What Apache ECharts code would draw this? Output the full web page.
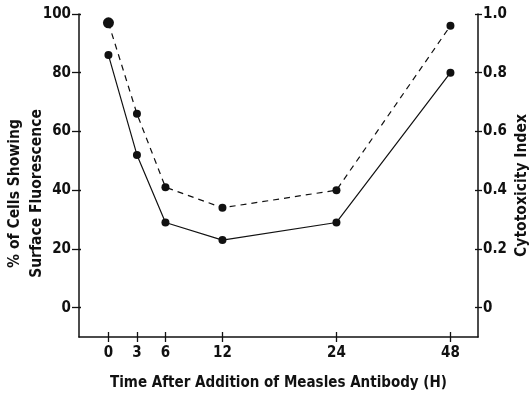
<!DOCTYPE html>
<html>
<head>
<meta charset="utf-8">
<script src="https://cdn.jsdelivr.net/npm/echarts@6/dist/echarts.min.js"></script>
<style>
  html, body { margin: 0; padding: 0; background: #fff; }
  #chart { width: 529px; height: 396px; }
</style>
</head>
<body>
<div id="chart"></div>
<script>
// Sampling times (hours) and the two measured curves
const hours = [0, 3, 6, 12, 24, 48];
const surfaceFluorescence = [86, 52, 29, 23, 29, 80];          // % of cells, left axis
const cytotoxicityIndex = [0.97, 0.66, 0.41, 0.34, 0.40, 0.96]; // right axis
const leftTicks = [0, 20, 40, 60, 80, 100];
const rightTicks = [0, 0.2, 0.4, 0.6, 0.8, 1.0];

// The time axis is linear up to 24 h, then runs at half scale to 48 h
function timeToAxis(h) { return h <= 24 ? h : 24 + (h - 24) / 2; }
function axisToTime(v) { return v <= 24 ? v : 24 + (v - 24) * 2; }

const FONT = '"Liberation Sans Narrow", "DejaVu Sans Condensed", sans-serif';
const INK = '#111';

const xPositions = hours.map(timeToAxis);
const fluorPoints = hours.map((h, i) => [timeToAxis(h), surfaceFluorescence[i]]);
const cytoPoints = hours.map((h, i) => [timeToAxis(h), cytotoxicityIndex[i]]);

const labelStyle = { fontFamily: FONT, fontWeight: 'bold', fontSize: 15, color: INK };
const titleStyle = { fontFamily: FONT, fontWeight: 'bold', fontSize: 15.5, color: INK };

const xBase = { type: 'value', min: -3.1, max: 38.9, splitLine: { show: false } };
const yLeftBase = { type: 'value', min: -10, max: 100, position: 'left', splitLine: { show: false } };
const yRightBase = { type: 'value', min: -0.1, max: 1.0, position: 'right', splitLine: { show: false } };

const chart = echarts.init(document.getElementById('chart'), null, { renderer: 'canvas' });
chart.setOption({
  backgroundColor: '#fff',
  animation: false,
  grid: { left: 79, right: 51, top: 14, bottom: 59, containLabel: false, outerBoundsMode: 'none' },
  xAxis: [
    Object.assign({}, xBase, {
      position: 'bottom',
      name: 'Time After Addition of Measles Antibody (H)',
      nameLocation: 'middle',
      nameGap: 39,
      nameMoveOverlap: false,
      nameTextStyle: Object.assign({}, titleStyle, { fontSize: 15 }),
      axisLine: { show: true, onZero: false, lineStyle: { color: INK, width: 1.5 } },
      axisTick: { show: true, length: 5, customValues: xPositions, lineStyle: { color: INK, width: 1.3 } },
      axisLabel: Object.assign({ show: true, margin: 9, customValues: xPositions,
        formatter: v => String(Math.round(axisToTime(v))) }, labelStyle)
    }),
    Object.assign({}, xBase, {
      position: 'bottom',
      axisLine: { show: false, onZero: false },
      axisTick: { show: true, inside: true, length: 5, customValues: xPositions, lineStyle: { color: INK, width: 1.3 } },
      axisLabel: { show: false }
    })
  ],
  yAxis: [
    Object.assign({}, yLeftBase, {
      name: '% of Cells Showing\nSurface Fluorescence',
      nameLocation: 'middle',
      nameRotate: 90,
      nameGap: 31,
      nameMoveOverlap: false,
      nameTextStyle: Object.assign({ lineHeight: 22, padding: [0, 36, 0, 0] }, titleStyle),
      axisLine: { show: true, onZero: false, lineStyle: { color: INK, width: 1.5 } },
      axisTick: { show: true, length: 7, customValues: leftTicks, lineStyle: { color: INK, width: 1.3 } },
      axisLabel: Object.assign({ show: true, margin: 8, customValues: leftTicks }, labelStyle)
    }),
    Object.assign({}, yRightBase, {
      name: 'Cytotoxicity Index',
      nameLocation: 'middle',
      nameRotate: 90,
      nameGap: 36,
      nameMoveOverlap: false,
      nameTextStyle: Object.assign({ padding: [0, 20, 0, 0] }, titleStyle),
      axisLine: { show: true, onZero: false, lineStyle: { color: INK, width: 1.5 } },
      axisTick: { show: true, length: 4, customValues: rightTicks, lineStyle: { color: INK, width: 1.3 } },
      axisLabel: Object.assign({ show: true, margin: 5, customValues: rightTicks,
        formatter: v => (v === 0 ? '0' : v.toFixed(1)) }, labelStyle)
    }),
    Object.assign({}, yLeftBase, {
      axisLine: { show: false, onZero: false },
      axisTick: { show: true, inside: true, length: 2, customValues: leftTicks, lineStyle: { color: INK, width: 1.3 } },
      axisLabel: { show: false }
    }),
    Object.assign({}, yRightBase, {
      axisLine: { show: false, onZero: false },
      axisTick: { show: true, inside: true, length: 3, customValues: rightTicks, lineStyle: { color: INK, width: 1.3 } },
      axisLabel: { show: false }
    })
  ],
  series: [
    {
      name: '% of Cells Showing Surface Fluorescence',
      type: 'line',
      xAxisIndex: 0,
      yAxisIndex: 0,
      data: fluorPoints,
      symbol: 'circle',
      symbolSize: 8,
      lineStyle: { color: INK, width: 1.2, type: 'solid' },
      itemStyle: { color: INK }
    },
    {
      name: 'Cytotoxicity Index',
      type: 'line',
      xAxisIndex: 0,
      yAxisIndex: 1,
      data: cytoPoints,
      symbol: 'circle',
      symbolSize: (val, params) => (params.dataIndex === 0 ? 11 : 8),
      lineStyle: { color: INK, width: 1.2, type: [6, 5] },
      itemStyle: { color: INK }
    }
  ]
});
</script>
</body>
</html>
